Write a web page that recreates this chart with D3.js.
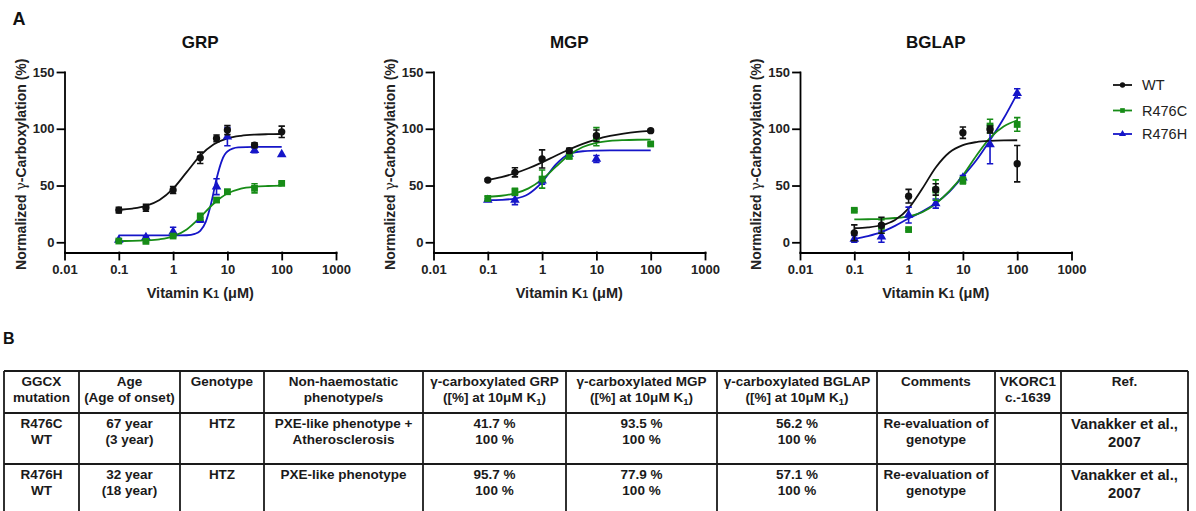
<!DOCTYPE html>
<html>
<head>
<meta charset="utf-8">
<script src="https://cdn.jsdelivr.net/npm/d3@7"></script>
<style>
  body { margin: 0; background: #fff; }
  svg { display: block; font-family: "Liberation Sans", Arial, sans-serif; }
  .axis path, .axis line { stroke: #000; stroke-width: 1.8px; stroke-linecap: square; }
  .axis text { font-size: 13px; font-weight: bold; fill: #222; font-family: "Liberation Sans", Arial, sans-serif; }
</style>
</head>
<body>
<svg id="fig" width="1196" height="511"></svg>
<script>
// ---- panel A: dose-response data (mean +/- error) ----
const xTicks = [0.01, 0.1, 1, 10, 100, 1000];
const xTickLabels = ["0.01", "0.1", "1", "10", "100", "1000"];
const yTicks = [0, 50, 100, 150];
const seriesNames = ["WT", "R476C", "R476H"];

const grpDose = [0.1, 0.316, 1, 3.16, 6.31, 10, 31.6, 100];
const grpWT = [28.4, 30.4, 46, 74.4, 91.5, 98.8, 85.6, 97.3];
const grpWTErr = [2.5, 3, 3, 5, 3, 4, 2, 5];
const grpR476C = [1.1, 0.8, 5.5, 22.5, 37.2, 44.5, 47.5, 51.9];
const grpR476CErr = [1, 1, 1, 3, 2, 2, 4, 1];
const grpR476H = [2, 4.4, 9.3, 19.6, 49, 93, 81, 77.4];
const grpR476HErr = [0, 1, 4, 2, 7, 8, 2, 0];

const mgpDose = [0.1, 0.316, 1, 3.16, 10, 100];
const mgpWT = [54.8, 61.6, 73.4, 80.7, 93.9, 98.3];
const mgpWTErr = [1, 4, 8, 2, 5, 1];
const mgpR476C = [38.6, 44.5, 55.7, 75.7, 93, 86.6];
const mgpR476CErr = [2, 3, 8, 2, 8, 1];
const mgpR476H = [37.2, 37.2, 54.2, 77.8, 73.4, null];
const mgpR476HErr = [1, 4, 3, 2, 3, 0];

const bglapDose = [0.1, 0.316, 1, 3.16, 10, 31.6, 100];
const bglapWT = [8.3, 15, 40.6, 46.5, 96.5, 99.4, 69.2];
const bglapWTErr = [7, 7, 6, 5, 5, 3, 16];
const bglapR476C = [28.2, 14, 11.2, 46, 54.4, 102.4, 103.8];
const bglapR476CErr = [1, 6, 1, 9, 3, 6, 6];
const bglapR476H = [3, 5, 24, 34.1, 56.8, 86.2, 131.2];
const bglapR476HErr = [3, 5, 7, 4, 2, 17, 4];

// fitted curves, read at quarter-decade steps
const curveDose = [0.1, 0.178, 0.316, 0.562, 1, 1.78, 3.16, 5.62, 10, 17.8, 31.6, 56.2, 100];
const grpWTFit = [28.7, 29.7, 32.0, 37.2, 47.2, 61.8, 76.3, 86.3, 91.5, 93.8, 94.8, 95.2, 95.4];
const grpR476CFit = [1.1, 1.2, 1.6, 2.6, 5.2, 11.3, 22.0, 34.2, 42.9, 47.3, 49.0, 49.6, 49.9];
const grpR476HFitDose = [0.1, 1, 1.78, 2.51, 3.16, 3.98, 5.01, 6.31, 7.94, 10, 15.8, 31.6, 100];
const grpR476HFit = [6.0, 6.0, 6.2, 7.4, 10.1, 17.8, 34.1, 55.9, 72.2, 79.9, 83.6, 84.0, 84.0];
const mgpWTFit = [54.9, 57.4, 60.8, 65.2, 70.4, 76.2, 81.7, 86.7, 90.7, 93.7, 95.8, 97.3, 98.2];
const mgpR476CFit = [40.1, 41.0, 43.1, 47.5, 55.4, 66.4, 76.8, 83.9, 87.6, 89.3, 90.0, 90.3, 90.4];
const mgpR476HFit = [37.1, 37.4, 38.5, 42.6, 53.0, 68.5, 77.8, 80.2, 80.8, 81.0, 81.0, 81.0, 81.0];
const bglapWTFit = [12.4, 13.1, 15.0, 19.7, 29.9, 47.1, 65.9, 79.1, 85.6, 88.3, 89.4, 89.8, 89.9];
const bglapR476CFit = [20.1, 20.3, 20.6, 21.4, 22.9, 26.5, 34.0, 45.0, 59.0, 76.5, 92.0, 102.0, 107.5];
const bglapR476HFit = [3, 5.5, 9, 14.5, 21, 27, 34.5, 44.5, 58, 72.5, 90, 109, 131];

// ---- panel B: table ----
const tableHeader = [
    ["GGCX", "mutation"], ["Age", "(Age of onset)"], ["Genotype"], ["Non-haemostatic", "phenotype/s"],
    ["γ-carboxylated GRP", "([%] at 10μM K_1)"], ["γ-carboxylated MGP", "([%] at 10μM K_1)"],
    ["γ-carboxylated BGLAP", "([%] at 10μM K_1)"], ["Comments"], ["VKORC1", "c.-1639"], ["Ref."]
];
const tableRow1 = [
    ["R476C", "WT"], ["67 year", "(3 year)"], ["HTZ"], ["PXE-like phenotype +", "Atherosclerosis"],
    ["41.7 %", "100 %"], ["93.5 %", "100 %"], ["56.2 %", "100 %"], ["Re-evaluation of", "genotype"],
    [], ["Vanakker et al.,", "2007"]
];
const tableRow2 = [
    ["R476H", "WT"], ["32 year", "(18 year)"], ["HTZ"], ["PXE-like phenotype"],
    ["95.7 %", "100 %"], ["77.9  %", "100 %"], ["57.1 %", "100 %"], ["Re-evaluation of", "genotype"],
    [], ["Vanakker et al.,", "2007"]
];

const colors = { WT: "#111", R476C: "#178c17", R476H: "#1515c8" };
const symbols = { WT: d3.symbolCircle, R476C: d3.symbolSquare, R476H: d3.symbolTriangle };
const symSize = { WT: 42, R476C: 46, R476H: 40 };

const svg = d3.select("#fig");

const panels = [
    { title: "GRP", left: 64.5, dose: grpDose,
      values: { WT: grpWT, R476C: grpR476C, R476H: grpR476H },
      errs: { WT: grpWTErr, R476C: grpR476CErr, R476H: grpR476HErr },
      fits: { WT: [curveDose, grpWTFit], R476C: [curveDose, grpR476CFit], R476H: [grpR476HFitDose, grpR476HFit] } },
    { title: "MGP", left: 433.5, dose: mgpDose,
      values: { WT: mgpWT, R476C: mgpR476C, R476H: mgpR476H },
      errs: { WT: mgpWTErr, R476C: mgpR476CErr, R476H: mgpR476HErr },
      fits: { WT: [curveDose, mgpWTFit], R476C: [curveDose, mgpR476CFit], R476H: [curveDose, mgpR476HFit] } },
    { title: "BGLAP", left: 800, dose: bglapDose,
      values: { WT: bglapWT, R476C: bglapR476C, R476H: bglapR476H },
      errs: { WT: bglapWTErr, R476C: bglapR476CErr, R476H: bglapR476HErr },
      fits: { WT: [curveDose, bglapWTFit], R476C: [curveDose, bglapR476CFit], R476H: [curveDose, bglapR476HFit] } }
];

const plotW = 271.5, yTop = 72, yBottom = 252.5;
const drawOrder = ["R476H", "R476C", "WT"];   // black ends up on top

panels.forEach(function(p) {
    let x = d3.scaleLog().domain([0.01, 1000]).range([p.left, p.left + plotW]);
    let y = d3.scaleLinear().domain([-9, 150]).range([yBottom, yTop]);
    let g = svg.append("g");

    g.append("g").attr("class", "axis")
        .attr("transform", `translate(0,${yBottom})`)
        .call(d3.axisBottom(x).tickValues(xTicks).tickFormat((d, i) => xTickLabels[i])
            .tickSize(7).tickSizeOuter(0).tickPadding(5));
    g.append("g").attr("class", "axis")
        .attr("transform", `translate(${p.left},0)`)
        .call(d3.axisLeft(y).tickValues(yTicks).tickSize(7).tickSizeOuter(0).tickPadding(3));

    // title, labels
    g.append("text").text(p.title)
        .attr("x", p.left + plotW / 2).attr("y", 48)
        .attr("text-anchor", "middle").attr("font-size", 17).attr("font-weight", "bold").attr("fill", "#111");
    let yl = g.append("text")
        .attr("transform", `translate(${p.left - 44},${(yTop + yBottom) / 2 + 2}) rotate(-90)`)
        .attr("text-anchor", "middle").attr("dominant-baseline", "central")
        .attr("font-size", 14).attr("font-weight", "bold").attr("fill", "#222");
    yl.append("tspan").text("Normalized ");
    yl.append("tspan").text("γ").attr("font-family", "DejaVu Serif, serif").attr("font-weight", "normal");
    yl.append("tspan").text("-Carboxylation (%)");
    let xl = g.append("text")
        .attr("x", p.left + plotW / 2).attr("y", 298)
        .attr("text-anchor", "middle").attr("font-size", 14.5).attr("font-weight", "bold").attr("fill", "#222");
    xl.append("tspan").text("Vitamin K");
    xl.append("tspan").text("1").attr("font-size", 10.5);
    xl.append("tspan").text(" (μM)");

    let line = d3.line().x(d => x(d[0])).y(d => y(d[1])).curve(d3.curveMonotoneX);

    drawOrder.forEach(function(name) {
        let fit = p.fits[name];
        let pts = fit[0].map((d, i) => [d, fit[1][i]]);
        g.append("path").attr("d", line(pts))
            .attr("fill", "none").attr("stroke", colors[name]).attr("stroke-width", 1.8);
    });

    drawOrder.forEach(function(name) {
        let vals = p.values[name], errs = p.errs[name];
        let pts = p.dose.map((d, i) => ({ d: d, v: vals[i], e: errs[i] })).filter(o => o.v !== null);
        let s = g.append("g").attr("stroke", colors[name]).attr("fill", colors[name]);
        pts.forEach(function(o) {
            if (o.e > 0) {
                let cx = x(o.d), y1 = y(o.v - o.e), y2 = y(o.v + o.e);
                s.append("path")
                    .attr("d", `M${cx},${y1}V${y2}M${cx - 3.2},${y1}H${cx + 3.2}M${cx - 3.2},${y2}H${cx + 3.2}`)
                    .attr("fill", "none").attr("stroke-width", 1.6);
            }
        });
        s.selectAll("path.pt").data(pts).enter().append("path")
            .attr("class", "pt")
            .attr("transform", o => `translate(${x(o.d)},${y(o.v)})`)
            .attr("d", d3.symbol().type(symbols[name]).size(symSize[name]))
            .attr("stroke", "none");
    });
});

// legend
const legendY = [85, 110.5, 134];
seriesNames.forEach(function(name, i) {
    let lg = svg.append("g").attr("transform", `translate(1113,${legendY[i]})`);
    lg.append("line").attr("x1", 0).attr("x2", 19).attr("stroke", colors[name]).attr("stroke-width", 1.8);
    lg.append("path").attr("transform", "translate(9.5,0)")
        .attr("d", d3.symbol().type(symbols[name]).size(22)).attr("fill", colors[name]);
    lg.append("text").text(name).attr("x", 29).attr("dominant-baseline", "central")
        .attr("font-size", 14.5).attr("fill", "#222");
});

// panel letters
svg.append("text").text("A").attr("x", 12.5).attr("y", 25)
    .attr("font-size", 18).attr("font-weight", "bold").attr("fill", "#111");
svg.append("text").text("B").attr("x", 3).attr("y", 344)
    .attr("font-size", 16).attr("font-weight", "bold").attr("fill", "#111");

// table
const tableCols = [4, 79, 180, 264, 423, 566, 717, 877, 995, 1061, 1188];
const tableLines = [371, 413, 464, 512];
const tg = svg.append("g");
tableLines.forEach(function(ly) {
    tg.append("line").attr("x1", tableCols[0]).attr("x2", tableCols[tableCols.length - 1])
        .attr("y1", ly).attr("y2", ly).attr("stroke", "#1a1a1a").attr("stroke-width", 1.8);
});
tableCols.forEach(function(lx) {
    tg.append("line").attr("x1", lx).attr("x2", lx)
        .attr("y1", tableLines[0]).attr("y2", 512).attr("stroke", "#1a1a1a").attr("stroke-width", 1.8);
});

function cellText(lines, cx, cy, size, step) {
    lines.forEach(function(ln, i) {
        let t = tg.append("text").attr("x", cx).attr("y", cy + i * step + size * 0.35)
            .attr("text-anchor", "middle").attr("font-size", size).attr("font-weight", "bold").attr("fill", "#1a1a1a");
        let parts = ln.split(/_(.)/);
        parts.forEach(function(part, k) {
            if (k % 2 === 1) {
                t.append("tspan").text(part).attr("font-size", size * 0.7).attr("dy", 3);
            } else if (part.length) {
                t.append("tspan").text(part).attr("dy", k > 0 ? -3 : 0);
            }
        });
    });
}

[tableHeader, tableRow1, tableRow2].forEach(function(row, r) {
    row.forEach(function(cell, c) {
        let cx = (tableCols[c] + tableCols[c + 1]) / 2;
        let top = tableLines[r];
        if (r > 0 && c === row.length - 1) {
            cellText(cell, cx, top + 11, 14.8, 17.5);
        } else {
            cellText(cell, cx, top + (r === 0 ? 10.7 : 10), 13.5, r === 0 ? 15.5 : 16);
        }
    });
});
</script>
</body>
</html>
